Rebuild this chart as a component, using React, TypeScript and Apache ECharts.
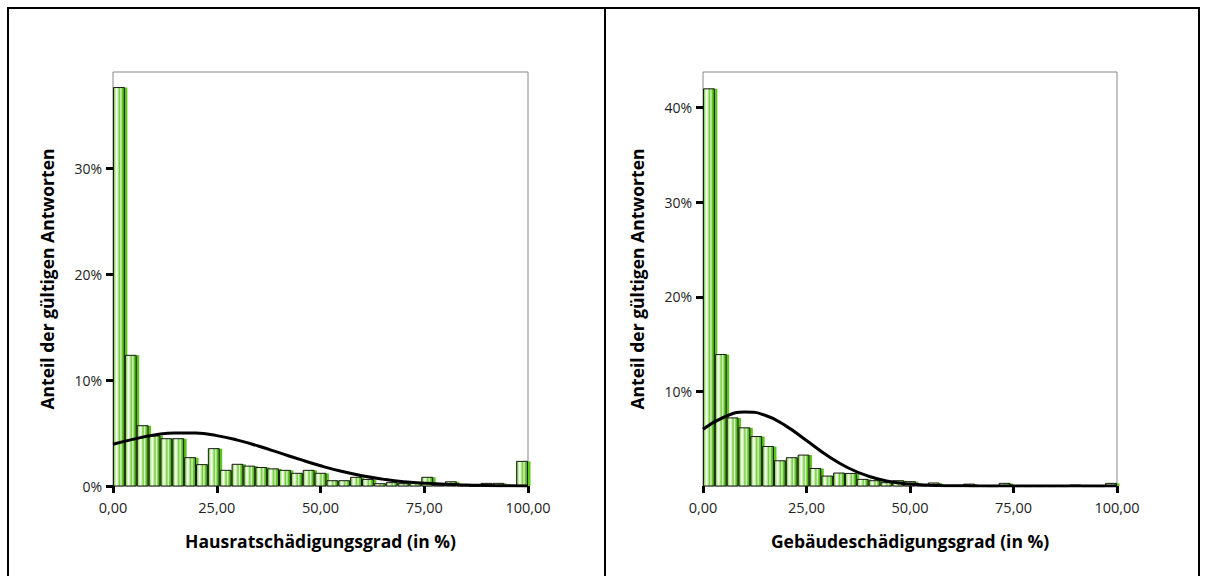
import React, { useEffect, useRef } from "react";
import * as echarts from "echarts";

// ---- Data (percent of valid answers, 35 bins of width 100/35) ----
const binCount = 35;
const hausratBins = [
  37.66, 12.35, 5.7, 4.73, 4.47, 4.47, 2.68, 2.02, 3.53, 1.48,
  2.05, 1.88, 1.75, 1.62, 1.48, 1.2, 1.48, 1.2, 0.5, 0.5,
  0.82, 0.62, 0.22, 0.32, 0.22, 0.32, 0.82, 0.08, 0.4, 0.08,
  0.02, 0.25, 0.25, 0.05, 2.33,
];
const gebaeudeBins = [
  42.0, 13.9, 7.2, 6.15, 5.23, 4.18, 2.67, 2.99, 3.27, 1.85,
  1.05, 1.37, 1.33, 0.7, 0.56, 0.35, 0.56, 0.46, 0.14, 0.32,
  0.05, 0.02, 0.2, 0.02, 0.0, 0.28, 0.0, 0.0, 0.0, 0.0,
  0.0, 0.1, 0.0, 0.0, 0.28,
];
// Normal curve at x = 0, 5, ..., 100
const curveX = [0, 5, 10, 15, 20, 25, 30, 35, 40, 45, 50, 55, 60, 65, 70, 75, 80, 85, 90, 95, 100];
const hausratCurve = [3.94, 4.43, 4.82, 5.02, 5.0, 4.76, 4.34, 3.78, 3.15, 2.51, 1.91, 1.39, 0.97, 0.65, 0.41, 0.27, 0.16, 0.09, 0.05, 0.02, 0.01];
const gebaeudeCurve = [6.0, 7.27, 7.83, 7.48, 6.36, 4.81, 3.23, 1.93, 1.03, 0.48, 0.2, 0.08, 0.03, 0.01, 0.0, 0.0, 0.0, 0.0, 0.0, 0.0, 0.0];
const xTicks = [0, 25, 50, 75, 100];
const leftYTicks = [0, 10, 20, 30];
const rightYTicks = [10, 20, 30, 40];
const leftYMax = 39.13;
const rightYMax = 43.78;
const xTitleLeft = "Hausratschädigungsgrad (in %)";
const xTitleRight = "Gebäudeschädigungsgrad (in %)";
const yTitle = "Anteil der gültigen Antworten";

const FONT = "'Open Sans', 'Noto Sans', sans-serif";

function binData(vals: number[]) {
  const w = 100 / binCount;
  return vals.map((v, i) => [i * w, (i + 1) * w, v]);
}

function curveData(ys: number[]) {
  return curveX.map((x, i) => [x, ys[i]]);
}

const barGradient = () =>
  new echarts.graphic.LinearGradient(0, 0, 1, 0, [
    { offset: 0, color: "#58c020" },
    { offset: 0.12, color: "#a6e07a" },
    { offset: 0.28, color: "#ffffff" },
    { offset: 0.42, color: "#c6ecaa" },
    { offset: 0.55, color: "#6fcc38" },
    { offset: 0.68, color: "#dff5cf" },
    { offset: 0.82, color: "#62c62a" },
    { offset: 1, color: "#46aa12" },
  ]);

function renderBar(params: any, api: any) {
  const x0 = api.value(0);
  const x1 = api.value(1);
  const v = api.value(2);
  const p0 = api.coord([x0, v]);
  const p1 = api.coord([x1, 0]);
  const x = p0[0];
  const y = p0[1];
  const w = p1[0] - p0[0];
  const h = Math.max(p1[1] - p0[1], 0.6);
  return {
    type: "group",
    children: [
      {
        type: "rect",
        shape: { x: x + 2.5, y: y, width: w, height: h },
        style: { fill: "#5cc41c" },
      },
      {
        type: "rect",
        shape: { x: x + 0.5, y: y, width: w - 1, height: h },
        style: { fill: barGradient(), stroke: "#1a1a1a", lineWidth: 1 },
      },
    ],
  };
}

function xAxis(gridIndex: number, name: string) {
  return {
    type: "value",
    gridIndex,
    min: 0,
    max: 100,
    interval: 25,
    name,
    nameLocation: "middle",
    nameGap: 46,
    nameTextStyle: { fontFamily: FONT, fontWeight: "bold", fontSize: 17.5, color: "#000" },
    axisLine: { show: false },
    splitLine: { show: false },
    axisTick: { show: true, length: 7, lineStyle: { color: "#000", width: 3 }, customValues: xTicks },
    axisLabel: {
      customValues: xTicks,
      margin: 14,
      fontFamily: FONT,
      fontSize: 14.5,
      color: "#222",
      formatter: (v: number) => v.toFixed(2).replace(".", ","),
    },
  };
}

function yAxis(gridIndex: number, max: number, ticks: number[]) {
  return {
    type: "value",
    gridIndex,
    min: 0,
    max,
    name: yTitle,
    nameLocation: "middle",
    nameGap: 57,
    nameTextStyle: { fontFamily: FONT, fontWeight: "bold", fontSize: 17.5, color: "#000" },
    axisLine: { show: false },
    splitLine: { show: false },
    axisTick: { show: true, length: 7, lineStyle: { color: "#000", width: 3 }, customValues: ticks },
    axisLabel: {
      customValues: ticks,
      margin: 11,
      fontFamily: FONT,
      fontSize: 14,
      color: "#222",
      formatter: (v: number) => `${v}%`,
    },
  };
}

export default function App() {
  const ref = useRef<HTMLDivElement>(null);
  useEffect(() => {
    if (!ref.current) return;
    const chart = echarts.init(ref.current, undefined, { renderer: "svg" });
    chart.setOption({
      animation: false,
      backgroundColor: "#fff",
      graphic: [
        {
          type: "rect",
          shape: { x: 8, y: 8, width: 597, height: 620 },
          style: { fill: "none", stroke: "#000", lineWidth: 2 },
          z: 100,
        },
        {
          type: "rect",
          shape: { x: 605, y: 8, width: 594, height: 620 },
          style: { fill: "none", stroke: "#000", lineWidth: 2 },
          z: 100,
        },
      ],
      grid: [
        { left: 113, top: 72, width: 415, height: 414, show: true, borderColor: "#888", borderWidth: 1, backgroundColor: "#fff" },
        { left: 703, top: 72, width: 414, height: 414, show: true, borderColor: "#888", borderWidth: 1, backgroundColor: "#fff" },
      ],
      xAxis: [xAxis(0, xTitleLeft), xAxis(1, xTitleRight)],
      yAxis: [yAxis(0, leftYMax, leftYTicks), yAxis(1, rightYMax, rightYTicks)],
      series: [
        {
          type: "custom",
          xAxisIndex: 0,
          yAxisIndex: 0,
          renderItem: renderBar,
          encode: { x: [0, 1], y: 2 },
          data: binData(hausratBins),
          clip: false,
          z: 2,
        },
        {
          type: "custom",
          xAxisIndex: 1,
          yAxisIndex: 1,
          renderItem: renderBar,
          encode: { x: [0, 1], y: 2 },
          data: binData(gebaeudeBins),
          clip: false,
          z: 2,
        },
        {
          type: "line",
          xAxisIndex: 0,
          yAxisIndex: 0,
          data: curveData(hausratCurve),
          smooth: true,
          showSymbol: false,
          symbol: "none",
          lineStyle: { color: "#000", width: 3 },
          z: 5,
        },
        {
          type: "line",
          xAxisIndex: 1,
          yAxisIndex: 1,
          data: curveData(gebaeudeCurve),
          smooth: true,
          showSymbol: false,
          symbol: "none",
          lineStyle: { color: "#000", width: 3 },
          z: 5,
        },
      ],
    });
    return () => chart.dispose();
  }, []);
  return (
    <div
      ref={ref}
      style={{ position: "absolute", left: 0, top: 0, width: 1206, height: 576, background: "#fff" }}
    />
  );
}
